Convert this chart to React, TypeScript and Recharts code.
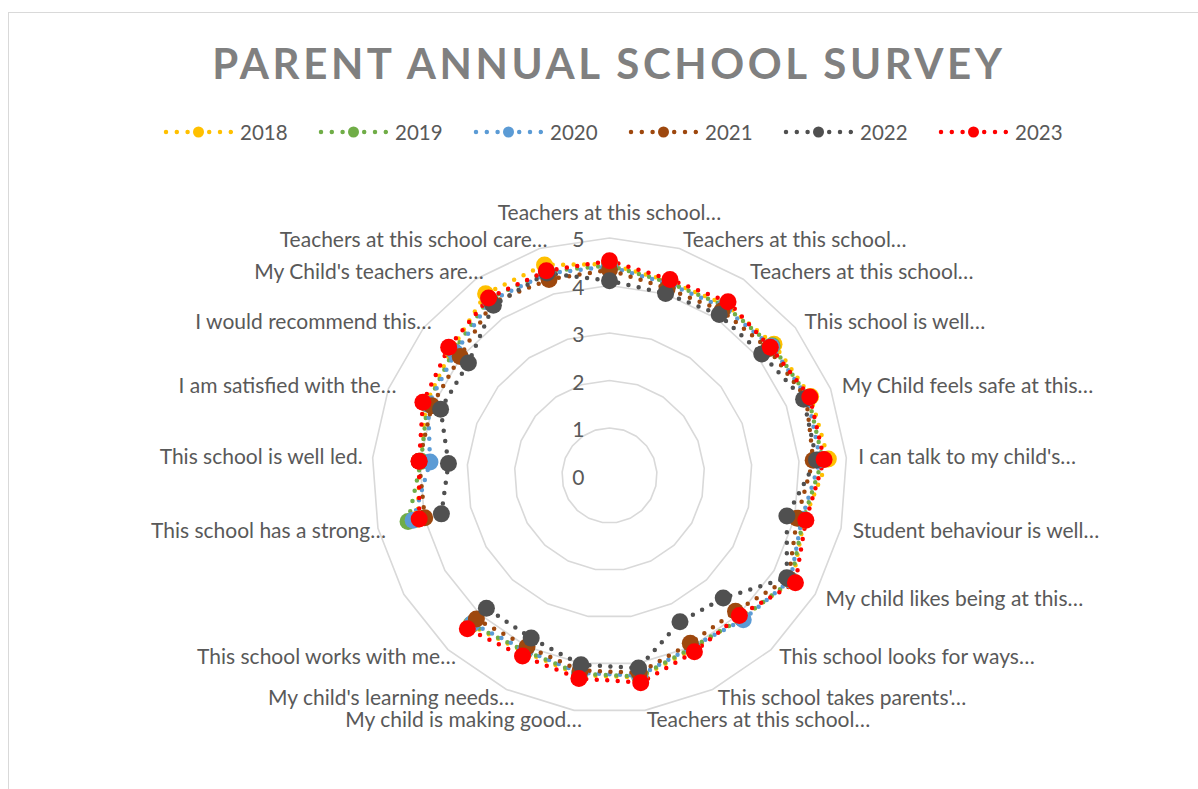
import React from "react";
import { RadarChart, Radar, PolarGrid, PolarAngleAxis, PolarRadiusAxis } from "recharts";

// survey questions, clockwise from the top (index 14 has no answers)
const questions = [
  "Teachers at this school…",
  "Teachers at this school…",
  "Teachers at this school…",
  "This school is well…",
  "My Child feels safe at this…",
  "I can talk to my child's…",
  "Student behaviour is well…",
  "My child likes being at this…",
  "This school looks for ways…",
  "This school takes parents'…",
  "Teachers at this school…",
  "My child is making good…",
  "My child's learning needs…",
  "This school works with me…",
  "",
  "This school has a strong…",
  "This school is well led.",
  "I am satisfied with the…",
  "I would recommend this…",
  "My Child's teachers are…",
  "Teachers at this school care…",
];

const years = ["2018", "2019", "2020", "2021", "2022", "2023"];
const yearColors = ["#FFC000", "#70AD47", "#5B9BD5", "#9E480E", "#505050", "#FF0000"];

const scores2018 = [4.45, 4.28, 4.35, 4.43, 4.55, 4.62, 4.2, 4.45, 4.08, 4.05, 4.3, 4.25, 4.12, 4.3, null, 4.15, 4.0, 4.15, 4.25, 4.63, 4.64];
const scores2019 = [4.42, 4.25, 4.32, 4.38, 4.5, 4.5, 4.18, 4.42, 4.1, 4.02, 4.28, 4.22, 4.1, 4.28, null, 4.35, 3.98, 4.12, 4.2, 4.5, 4.5];
const scores2020 = [4.4, 4.22, 4.28, 4.36, 4.48, 4.45, 4.15, 4.4, 4.14, 4.0, 4.26, 4.2, 4.08, 4.25, null, 4.24, 3.79, 4.1, 4.15, 4.45, 4.45];
const scores2021 = [4.33, 4.12, 4.2, 4.28, 4.45, 4.3, 4.05, 4.35, 3.9, 3.92, 4.2, 4.15, 4.0, 4.12, null, 3.99, 4.02, 4.02, 4.02, 4.4, 4.32];
const scores2022 = [4.1, 4.01, 4.1, 4.1, 4.39, 4.37, 3.83, 4.31, 3.52, 3.42, 4.1, 4.03, 3.8, 3.81, null, 3.63, 3.4, 3.82, 3.8, 4.34, 4.46];
const scores2023 = [4.52, 4.32, 4.43, 4.33, 4.53, 4.53, 4.24, 4.52, 4.02, 4.12, 4.41, 4.32, 4.22, 4.4, null, 4.11, 4.02, 4.22, 4.33, 4.52, 4.51];

const radiusTicks = [0, 1, 2, 3, 4, 5];

const allScores = [scores2018, scores2019, scores2020, scores2021, scores2022, scores2023];

const data = questions.map((q, i) => {
  const row: Record<string, any> = { key: i };
  years.forEach((y, s) => {
    row[y] = allScores[s][i];
  });
  return row;
});

const FONT = "Lato, 'Open Sans', sans-serif";
const TEXT = "#595959";
const RING = 8; // default tick offset used by the angle axis

// dotted outline that stops at missing answers instead of closing over them
function openOutline(s: number) {
  const color = yearColors[s];
  return (props: any) => {
    const pts = props.points || [];
    const n = pts.length;
    const ok = (i: number) =>
      allScores[s][i] != null && Number.isFinite(pts[i].x) && Number.isFinite(pts[i].y);
    let gap = -1;
    for (let i = 0; i < n; i++) if (!ok(i)) { gap = i; break; }
    let d = "";
    if (gap < 0) {
      d = pts.map((p: any, i: number) => `${i ? "L" : "M"}${p.x},${p.y}`).join("") + "Z";
    } else {
      let pen = false;
      for (let k = 1; k <= n; k++) {
        const i = (gap + k) % n;
        if (!ok(i)) {
          pen = false;
          continue;
        }
        d += `${pen ? "L" : "M"}${pts[i].x},${pts[i].y}`;
        pen = true;
      }
    }
    return (
      <path
        d={d}
        fill="none"
        stroke={color}
        strokeWidth={4.5}
        strokeLinecap="round"
        strokeDasharray="0 10.5"
      />
    );
  };
}

function marker(s: number) {
  const color = yearColors[s];
  return (p: any) => {
    if (allScores[s][p.index] == null || !Number.isFinite(p.cx) || !Number.isFinite(p.cy)) {
      return <g key={p.index} />;
    }
    return <circle key={p.index} cx={p.cx} cy={p.cy} r={8.5} fill={color} />;
  };
}

function QuestionTick(props: any) {
  const { x, y, payload } = props;
  const label = questions[payload.value];
  if (!label) return <g />;
  const a = (payload.coordinate * Math.PI) / 180;
  const ux = Math.cos(a);
  const uy = -Math.sin(a);
  const rx = x - RING * ux;
  const ry = y - RING * uy;
  let tx = rx;
  let ty = ry + 9 * uy;
  let anchor: "start" | "end" | "middle" = "middle";
  if (Math.abs(ux) < 0.05) {
    ty = ry + (uy < 0 ? -25 : 25);
  } else if (ux > 0) {
    anchor = "start";
    tx = rx + 12 * ux;
  } else {
    anchor = "end";
    tx = label.endsWith("…") ? rx + 8 : rx - 10;
  }
  return (
    <text x={tx} y={ty} dy="0.35em" textAnchor={anchor} fill={TEXT} fontSize={21} fontFamily={FONT}>
      {label}
    </text>
  );
}

function ValueTick(props: any) {
  const { x, y, payload } = props;
  return (
    <text x={x - 25} y={y + 2} dy="0.35em" textAnchor="end" fill={TEXT} fontSize={21} fontFamily={FONT}>
      {payload.value}
    </text>
  );
}

function LegendRow() {
  return (
    <div
      style={{
        position: "absolute",
        top: 121,
        left: 163,
        display: "flex",
        fontFamily: FONT,
        fontSize: 20.5,
        color: TEXT,
      }}
    >
      {years.map((y, i) => (
        <div key={y} style={{ display: "flex", alignItems: "center", width: 155 }}>
          <svg width={70} height={22}>
            <line
              x1={3}
              y1={11}
              x2={68}
              y2={11}
              stroke={yearColors[i]}
              strokeWidth={4.5}
              strokeLinecap="round"
              strokeDasharray="0 10.8"
            />
            <circle cx={35.5} cy={11} r={5.5} fill={yearColors[i]} />
          </svg>
          <span style={{ marginLeft: 7, lineHeight: "22px" }}>{y}</span>
        </div>
      ))}
    </div>
  );
}

export default function App() {
  return (
    <div
      style={{
        position: "absolute",
        left: 0,
        top: 0,
        width: 1198,
        height: 789,
        overflow: "hidden",
        background: "#fff",
      }}
    >
      <div
        style={{
          position: "absolute",
          left: 8,
          top: 12,
          width: 1400,
          height: 1000,
          border: "1.5px solid #D9D9D9",
        }}
      />
      <div
        style={{
          position: "absolute",
          top: 37,
          left: 0,
          width: 1218,
          textAlign: "center",
          fontFamily: FONT,
          fontWeight: 700,
          fontSize: 42,
          letterSpacing: 3.6,
          color: "#808080",
          lineHeight: "52px",
        }}
      >
        PARENT ANNUAL SCHOOL SURVEY
      </div>
      <LegendRow />
      <div style={{ position: "absolute", left: 0, top: 0 }}>
        <RadarChart
          width={1198}
          height={789}
          data={data}
          cx={609.5}
          cy={475.5}
          outerRadius={237.5}
          margin={{ top: 0, right: 0, bottom: 0, left: 0 }}
        >
          <PolarGrid gridType="polygon" radialLines={false} stroke="#D9D9D9" strokeWidth={1.6} />
          <PolarAngleAxis dataKey="key" tick={QuestionTick} tickLine={false} axisLine={false} />
          <PolarRadiusAxis
            angle={90}
            domain={[0, 5]}
            ticks={radiusTicks}
            tickCount={6}
            tick={ValueTick}
            axisLine={false}
            tickLine={false}
          />
          {years.map((y, i) => (
            <Radar
              key={y}
              name={y}
              dataKey={y}
              stroke={yearColors[i]}
              fill="none"
              shape={openOutline(i)}
              dot={marker(i)}
              activeDot={false}
              isAnimationActive={false}
            />
          ))}
        </RadarChart>
      </div>
    </div>
  );
}
